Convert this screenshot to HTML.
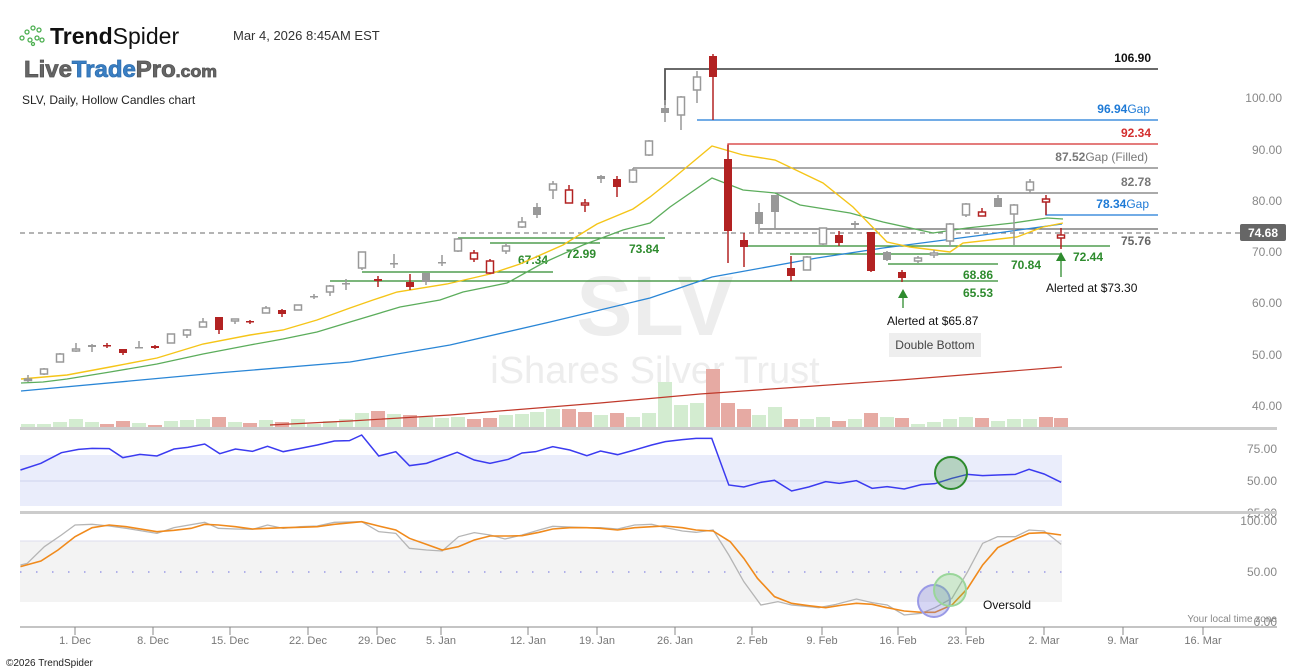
<!DOCTYPE html>
<html><head><meta charset="utf-8"><style>
body{margin:0;background:#fff;width:1307px;height:672px;overflow:hidden;font-family:"Liberation Sans",sans-serif}
svg{position:absolute;left:0;top:0}
text{font-family:"Liberation Sans",sans-serif}
</style></head><body>
<svg width="1307" height="672" viewBox="0 0 1307 672">
<text x="655" y="335" font-size="84" font-weight="bold" fill="#ededed" text-anchor="middle">SLV</text>
<text x="655" y="383" font-size="38" fill="#ededed" text-anchor="middle">iShares Silver Trust</text>

<g fill="none" stroke="#4caf50" stroke-width="1.3">
<circle cx="22" cy="38" r="2"/><circle cx="27" cy="32" r="2"/><circle cx="33" cy="28" r="2"/><circle cx="39" cy="30" r="2"/><circle cx="30" cy="40" r="2"/><circle cx="37" cy="38" r="2"/><circle cx="42" cy="40" r="2"/><circle cx="33" cy="44" r="1.5"/>
</g>
<text x="50" y="44" font-size="23" font-weight="bold" fill="#111">Trend<tspan font-weight="normal">Spider</tspan></text>
<text x="233" y="40" font-size="13" fill="#333">Mar 4, 2026 8:45AM EST</text>
<text x="24" y="77" font-size="23" font-weight="900" fill="#666" stroke="#555" stroke-width="0.8" textLength="193" lengthAdjust="spacingAndGlyphs">Live<tspan fill="#3a7fc4" stroke="#2f6faf">Trade</tspan>Pro<tspan font-size="17">.com</tspan></text>
<text x="22" y="104" font-size="12" fill="#222">SLV, Daily, Hollow Candles chart</text>

<g font-size="12" fill="#888" text-anchor="end">
<text x="1282" y="102">100.00</text><text x="1282" y="154">90.00</text><text x="1282" y="205">80.00</text>
<text x="1282" y="256">70.00</text><text x="1282" y="307">60.00</text><text x="1282" y="359">50.00</text><text x="1282" y="410">40.00</text>
<text x="1277" y="453">75.00</text><text x="1277" y="485">50.00</text><text x="1277" y="517">25.00</text>
<text x="1277" y="525">100.00</text><text x="1277" y="576">50.00</text><text x="1277" y="626">0.00</text>
</g>

<g id="vol"></g>
<polyline fill="none" stroke="#c0392b" stroke-width="1.2" points="270,425 350,421 450,415 600,403 700,394 800,387 900,380 1000,372 1062,367"/>

<line x1="20" y1="233" x2="1240" y2="233" stroke="#888" stroke-dasharray="5,4" stroke-width="1.2"/>
<g stroke-width="1.3" fill="none">
<polyline stroke="#555" stroke-width="1.8" points="665,105 665,69 1158,69"/>
<line x1="697" y1="120" x2="1158" y2="120" stroke="#1e7ad6"/>
<polyline stroke="#d32f2f" points="728,160 728,144 1158,144"/>
<line x1="633" y1="168" x2="1158" y2="168" stroke="#777"/>
<line x1="775" y1="193" x2="1158" y2="193" stroke="#777"/>
<polyline stroke="#1e7ad6" points="1046,200 1046,215 1158,215"/>
<line x1="760" y1="229" x2="1158" y2="229" stroke="#666"/>
<line x1="745" y1="246" x2="1110" y2="246" stroke="#2e8b2e"/>
<line x1="790" y1="254" x2="1062" y2="254" stroke="#2e8b2e"/>
<line x1="888" y1="264" x2="998" y2="264" stroke="#2e8b2e"/>
<line x1="330" y1="281" x2="998" y2="281" stroke="#2e8b2e"/>
<line x1="362" y1="272" x2="553" y2="272" stroke="#2e8b2e"/>
<line x1="490" y1="243" x2="600" y2="243" stroke="#2e8b2e"/>
<line x1="458" y1="238" x2="665" y2="238" stroke="#2e8b2e"/>
</g>
<g font-size="12" text-anchor="end">
<text x="1151" y="62" fill="#111" font-weight="bold">106.90</text>
<text x="1150" y="113" fill="#1e7ad6"><tspan font-weight="bold">96.94</tspan>Gap</text>
<text x="1151" y="137" fill="#d32f2f" font-weight="bold">92.34</text>
<text x="1148" y="161" fill="#777"><tspan font-weight="bold">87.52</tspan>Gap (Filled)</text>
<text x="1151" y="186" fill="#777" font-weight="bold">82.78</text>
<text x="1149" y="208" fill="#1e7ad6"><tspan font-weight="bold">78.34</tspan>Gap</text>
<text x="1151" y="245" fill="#666" font-weight="bold">75.76</text>
<text x="1103" y="261" fill="#2e8b2e" font-weight="bold">72.44</text>
<text x="1041" y="269" fill="#2e8b2e" font-weight="bold">70.84</text>
<text x="993" y="279" fill="#2e8b2e" font-weight="bold">68.86</text>
<text x="993" y="297" fill="#2e8b2e" font-weight="bold">65.53</text>
<text x="548" y="264" fill="#2e8b2e" font-weight="bold">67.34</text>
<text x="596" y="258" fill="#2e8b2e" font-weight="bold">72.99</text>
<text x="659" y="253" fill="#2e8b2e" font-weight="bold">73.84</text>
</g>
<rect x="1240" y="224" width="46" height="17" rx="2" fill="#666"/>
<text x="1263" y="237" font-size="12" font-weight="bold" fill="#fff" text-anchor="middle">74.68</text>

<polyline fill="none" stroke="#2a86d6" stroke-width="1.3" points="21,391 217,373 350,362 450,345 550,322 650,298 712,277 817,258 883,248 983,235 1062,224"/>
<polyline fill="none" stroke="#5cad5c" stroke-width="1.3" points="21,383 43,382 67,379 110,372 157,364 203,354 250,345 283,339 317,332 350,322 400,307 440,300 463,292 507,283 543,263 583,245 623,230 650,223 670,207 712,178 743,190 775,193 800,205 850,213 883,222 933,233 967,228 1013,223 1047,218 1063,219"/>
<polyline fill="none" stroke="#f5c518" stroke-width="1.4" points="21,379 67,375 110,367 157,358 203,344 250,335 283,330 317,320 350,308 373,300 397,292 447,284 490,274 520,264 563,245 597,224 633,209 650,197 670,181 712,146 743,155 775,160 823,183 853,207 887,242 910,247 950,252 963,243 1017,237 1043,227 1063,223"/>

<g id="candles"></g>

<polygon points="903,289 898,298 908,298" fill="#2e8b2e"/><line x1="903" y1="297" x2="903" y2="308" stroke="#2e8b2e" stroke-width="1.3"/>
<text x="887" y="325" font-size="12" fill="#111">Alerted at $65.87</text>
<rect x="889" y="333" width="92" height="24" fill="#eee"/>
<text x="935" y="349" font-size="12" fill="#444" text-anchor="middle">Double Bottom</text>
<polygon points="1061,252 1056,261 1066,261" fill="#2e8b2e"/><line x1="1061" y1="260" x2="1061" y2="277" stroke="#2e8b2e" stroke-width="1.3"/>
<text x="1046" y="292" font-size="12" fill="#111">Alerted at $73.30</text>

<rect x="20" y="427" width="1257" height="3" fill="#ccc"/>
<rect x="20" y="511" width="1257" height="3" fill="#ccc"/>

<rect x="20" y="455" width="1042" height="51" fill="#eaedfb"/>
<line x1="20" y1="481" x2="1062" y2="481" stroke="#cfd3ee"/>
<g transform="translate(0,425) scale(0.6824,0.33333)">
<polyline fill="none" stroke="#3b3bf0" stroke-width="1.5" vector-effect="non-scaling-stroke" points="30,135 60,115 90,83 115,73 135,70 160,71 180,98 205,88 230,93 255,72 275,67 300,57 322,86 345,72 370,79 392,64 415,80 440,70 465,60 490,48 512,47 530,30 555,93 580,80 600,122 625,115 670,82 695,105 718,115 745,103 765,84 785,80 810,65 835,75 860,92 880,78 905,89 930,75 955,60 975,50 1000,44 1020,40 1043,40 1068,180 1090,186 1115,172 1135,166 1160,198 1185,186 1210,170 1230,175 1255,167 1278,190 1300,185 1325,192 1350,179 1370,176 1395,160 1418,148 1440,152 1462,150 1488,148 1508,133 1530,147 1555,172"/>
</g>
<ellipse cx="951" cy="473" rx="16" ry="16" fill="rgba(60,150,60,0.3)" stroke="#2e8b2e" stroke-width="2"/>

<rect x="20" y="541" width="1042" height="61" fill="#f3f3f3"/>
<line x1="20" y1="541" x2="1062" y2="541" stroke="#dde"/>
<line x1="20" y1="572" x2="1062" y2="572" stroke="#9a9ae6" stroke-dasharray="1.5,14.5" stroke-width="1.5"/>
<g transform="translate(0,425) scale(0.6824,0.33333)">
<polyline fill="none" stroke="#b5b5b5" stroke-width="1.3" vector-effect="non-scaling-stroke" points="30,420 40,415 65,365 90,330 110,300 135,298 160,303 185,310 230,325 255,308 300,292 320,310 345,312 370,313 392,300 415,310 440,305 465,303 490,292 530,290 555,320 580,325 600,370 625,375 648,378 672,335 695,323 718,330 740,342 765,330 790,315 810,304 835,306 860,308 880,308 905,312 930,300 955,298 975,308 1000,318 1020,322 1045,315 1068,390 1090,470 1115,540 1140,530 1160,540 1185,545 1200,548 1225,538 1255,522 1278,533 1300,540 1325,570 1350,565 1370,548 1395,520 1418,440 1440,355 1462,335 1488,335 1508,315 1530,318 1555,358"/>
<polyline fill="none" stroke="#f08a1c" stroke-width="1.6" vector-effect="non-scaling-stroke" points="30,425 60,408 85,375 110,335 135,308 160,300 185,305 230,320 255,316 280,310 300,298 320,300 345,305 370,312 392,310 415,308 440,307 465,305 490,298 530,290 555,303 580,315 600,340 625,358 648,375 672,365 695,345 718,333 745,333 765,332 790,322 810,312 835,308 860,308 880,310 905,315 930,308 955,305 975,303 1000,308 1020,315 1045,318 1070,350 1090,400 1110,460 1135,515 1160,535 1185,542 1210,548 1235,540 1255,535 1278,538 1300,548 1325,558 1350,562 1370,562 1395,540 1418,490 1440,420 1462,368 1488,342 1508,325 1530,323 1555,330"/>
</g>
<ellipse cx="934" cy="601" rx="16" ry="16" fill="rgba(120,120,220,0.3)" stroke="#9a9ae6" stroke-width="2"/>
<ellipse cx="950" cy="590" rx="16" ry="16" fill="rgba(100,200,100,0.25)" stroke="#9ad69a" stroke-width="2"/>
<text x="983" y="609" font-size="12" fill="#111">Oversold</text>

<line x1="20" y1="627" x2="1277" y2="627" stroke="#888"/>
<g id="xt" font-size="11" fill="#777" text-anchor="middle"></g>
<text x="1277" y="622" font-size="10" fill="#888" text-anchor="end">Your local time zone</text>
<text x="6" y="666" font-size="10" fill="#222">©2026 TrendSpider</text>
</svg>
<script>
var NS="http://www.w3.org/2000/svg";
function el(p,t,a){var e=document.createElementNS(NS,t);for(var k in a)e.setAttribute(k,a[k]);p.appendChild(e);return e;}
var C=[[28,379,380,375,382,'g'],[44,369,374,368,375,'g'],[60,354,362,353,362,'g'],[76,349,351,343,352,'g'],[92,345,347,344,352,'gf'],[107,345,346,343,348,'r'],[123,349,353,349,355,'r'],[139,347,348,341,348,'gf'],[155,346,348,345,349,'r'],[171,334,343,334,343,'g'],[187,330,335,329,338,'g'],[203,322,327,318,327,'g'],[219,317,330,317,334,'r'],[235,319,321,319,324,'g'],[250,321,322,320,324,'r'],[266,308,313,306,313,'g'],[282,310,314,309,317,'r'],[298,305,310,305,310,'g'],[314,296,297,294,299,'gf'],[330,286,292,285,296,'g'],[346,283,284,279,290,'gf'],[362,252,268,252,270,'g'],[378,279,281,276,287,'r'],[394,263,264,254,268,'gf'],[410,282,287,274,290,'r'],[426,273,282,273,285,'gf'],[442,262,263,255,266,'gf'],[458,239,251,238,252,'g'],[474,253,259,250,262,'rh'],[490,261,273,259,274,'rh'],[506,246,251,243,254,'g'],[522,222,227,217,228,'g'],[537,207,215,203,218,'gf'],[553,184,190,181,199,'g'],[569,190,203,185,203,'rh'],[585,203,205,199,212,'rh'],[601,176,179,175,183,'gf'],[617,179,187,176,197,'r'],[633,170,182,168,183,'g'],[649,141,155,140,156,'g'],[665,108,113,100,122,'gf'],[681,97,115,96,130,'g'],[697,77,90,71,103,'g'],[713,56,77,54,120,'r'],[728,159,231,145,263,'r'],[744,240,247,233,267,'r'],[759,212,224,203,233,'gf'],[775,195,212,195,229,'gf'],[791,268,276,256,281,'r'],[807,257,270,256,270,'g'],[823,228,244,228,245,'g'],[839,235,243,231,246,'r'],[855,223,225,221,229,'gf'],[871,232,271,232,272,'r'],[887,252,260,251,261,'gf'],[902,272,278,270,282,'r'],[918,258,261,256,263,'g'],[934,253,255,250,258,'g'],[950,224,241,223,247,'g'],[966,204,215,203,217,'g'],[982,212,216,208,216,'rh'],[998,198,207,195,207,'gf'],[1014,205,214,204,245,'g'],[1030,182,190,179,193,'g'],[1046,199,202,195,215,'rh'],[1061,235,238,228,249,'rh']];
var V=[3,3,5,8,5,3,6,4,2,6,7,8,10,5,4,7,5,8,3,6,8,14,16,13,12,10,9,10,8,9,12,13,15,18,18,15,12,14,10,14,45,22,24,58,24,18,12,20,8,8,10,6,8,14,10,9,3,5,8,10,9,6,8,8,10,9];
var vg=document.getElementById('vol'),cg=document.getElementById('candles');
C.forEach(function(c,i){
 var red=c[5][0]=='r';var col=red?'#b22222':'#999';
 el(vg,'rect',{x:c[0]-7,y:427-V[i],width:14,height:V[i],fill:red?'#e6aaa3':'#d3ecd0'});
 el(cg,'line',{x1:c[0],y1:c[3],x2:c[0],y2:c[4],stroke:col,'stroke-width':1.5});
 var h=Math.max(c[2]-c[1],1.5);
 if(c[5]=='g'||c[5]=='rh') el(cg,'rect',{x:c[0]-3.5,y:c[1],width:7,height:h,fill:'#fff',stroke:col,'stroke-width':1.5});
 else el(cg,'rect',{x:c[0]-4,y:c[1],width:8,height:h,fill:col});
});
var xt=document.getElementById('xt');
[[75,'1. Dec'],[153,'8. Dec'],[230,'15. Dec'],[308,'22. Dec'],[377,'29. Dec'],[441,'5. Jan'],[528,'12. Jan'],[597,'19. Jan'],[675,'26. Jan'],[752,'2. Feb'],[822,'9. Feb'],[898,'16. Feb'],[966,'23. Feb'],[1044,'2. Mar'],[1123,'9. Mar'],[1203,'16. Mar']].forEach(function(t){
 el(xt,'line',{x1:t[0],y1:627,x2:t[0],y2:635,stroke:'#888'});
 var e=el(xt,'text',{x:t[0],y:644});e.textContent=t[1];
});
</script>
</body></html>
